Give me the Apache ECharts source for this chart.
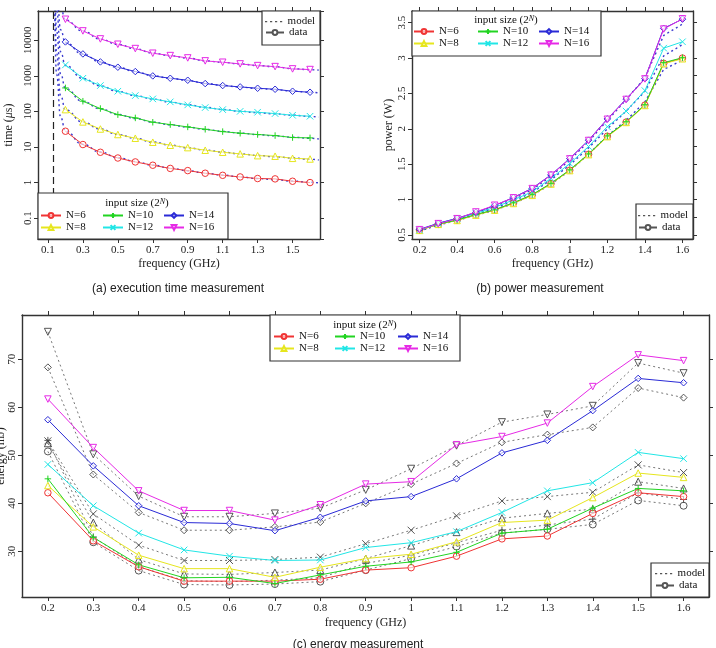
<!DOCTYPE html>
<html>
<head>
<meta charset="utf-8">
<script src="https://cdn.jsdelivr.net/npm/echarts@6/dist/echarts.min.js"></script>
<style>
  html, body { margin: 0; padding: 0; background: #fff; }
  #chart { width: 716px; height: 648px; }
</style>
</head>
<body>
<div id="chart"></div>
<script>
// frequencies (GHz) of the measurements
const freqs = [0.2, 0.3, 0.4, 0.5, 0.6, 0.7, 0.8, 0.9, 1.0, 1.1, 1.2, 1.3, 1.4, 1.5, 1.6];
const sizes = ['N=6', 'N=8', 'N=10', 'N=12', 'N=14', 'N=16'];

// (a) execution time, us
const timeN6 = [27.7, 11.7, 7.1, 4.9, 3.8, 3.07, 2.5, 2.17, 1.83, 1.6, 1.44, 1.3, 1.27, 1.09, 1.0];
const timeN8 = [112, 50.5, 32, 22.4, 17.6, 13.6, 11.2, 9.6, 8.1, 7.1, 6.4, 5.7, 5.5, 4.8, 4.6];
const timeN10 = [456, 193, 120, 81, 65.5, 49.5, 42.6, 36.6, 31.4, 27, 24.3, 22.4, 20.9, 18.4, 18];
const timeN12 = [2020, 852, 531, 368, 278, 224, 185, 152, 128, 112, 100, 94.6, 86.7, 77.7, 73];
const timeN14 = [8940, 4110, 2450, 1740, 1315, 991, 852, 749, 604, 531, 487, 446, 418, 368, 345];
const timeN16 = [38700, 18200, 10850, 7690, 5810, 4300, 3690, 3170, 2620, 2400, 2155, 1930, 1810, 1560, 1495];

// model curves of (a), read at these frequencies
const timeModelFreqs = [0.139, 0.149, 0.173, 0.2, 0.3, 0.4, 0.5, 0.6, 0.7, 0.8, 0.9, 1.0, 1.1, 1.2, 1.3, 1.4, 1.5, 1.6, 1.65];
const timeModelN6 = [53000, 1100, 67, 28, 11.8, 7.2, 5.0, 3.9, 3.1, 2.55, 2.15, 1.85, 1.62, 1.44, 1.3, 1.2, 1.1, 1.02, 0.98];
const timeModelN8 = [200000, 4400, 270, 110, 50, 32, 22.5, 17.5, 13.8, 11.3, 9.5, 8.2, 7.2, 6.4, 5.8, 5.3, 4.9, 4.5, 4.3];
const timeModelN10 = [800000, 18000, 1100, 440, 190, 118, 82, 63, 50, 42, 36, 31, 27.5, 24.5, 22.3, 20.5, 18.8, 17.5, 16.8];
const timeModelN12 = [3200000, 72000, 4700, 1950, 840, 520, 365, 278, 222, 183, 154, 130, 113, 101, 92, 85, 78, 72, 69];
const timeModelN14 = [13000000, 290000, 19500, 8500, 4050, 2450, 1720, 1310, 1000, 850, 740, 610, 535, 480, 440, 410, 370, 345, 330];
const timeModelN16 = [50000000, 1200000, 80000, 37000, 18000, 10700, 7600, 5750, 4350, 3650, 3150, 2620, 2380, 2150, 1940, 1800, 1580, 1480, 1440];
const asymptoteGHz = 0.13;

// (b) power, W
const powN6 = [0.57, 0.65, 0.71, 0.785, 0.855, 0.95, 1.065, 1.225, 1.415, 1.64, 1.895, 2.095, 2.335, 2.925, 3.0];
const powN8 = [0.565, 0.65, 0.705, 0.78, 0.85, 0.945, 1.06, 1.22, 1.41, 1.635, 1.89, 2.09, 2.33, 2.92, 2.99];
const powN10 = [0.57, 0.655, 0.71, 0.79, 0.855, 0.955, 1.07, 1.23, 1.42, 1.645, 1.9, 2.1, 2.34, 2.935, 3.005];
const powN12 = [0.57, 0.665, 0.735, 0.805, 0.89, 0.995, 1.11, 1.30, 1.51, 1.75, 2.03, 2.25, 2.54, 3.14, 3.23];
const powN14 = [0.58, 0.665, 0.735, 0.82, 0.915, 1.03, 1.16, 1.35, 1.58, 1.84, 2.14, 2.42, 2.71, 3.42, 3.55];
const powN16 = [0.575, 0.66, 0.73, 0.825, 0.92, 1.025, 1.155, 1.345, 1.575, 1.835, 2.135, 2.415, 2.705, 3.41, 3.555];
const powModelLow = [0.555, 0.64, 0.705, 0.78, 0.85, 0.945, 1.06, 1.22, 1.41, 1.64, 1.9, 2.12, 2.38, 2.84, 2.97];
const powModelMid = [0.56, 0.65, 0.72, 0.795, 0.875, 0.98, 1.1, 1.28, 1.49, 1.73, 2.0, 2.25, 2.53, 3.03, 3.19];
const powModelHigh = [0.565, 0.655, 0.73, 0.81, 0.9, 1.01, 1.14, 1.33, 1.56, 1.82, 2.12, 2.41, 2.72, 3.32, 3.48];

// (c) energy, mJ
const enN6 = [42.2, 32.2, 26.8, 23.8, 23.8, 23.8, 24.2, 26.1, 26.6, 29.0, 32.6, 33.2, 37.9, 42.2, 41.4];
const enN8 = [43.7, 35.1, 29.2, 26.4, 26.4, 24.6, 26.7, 28.5, 29.4, 32.0, 36.0, 36.5, 41.2, 46.3, 45.4];
const enN10 = [45.1, 32.9, 27.2, 24.5, 24.6, 23.3, 25.1, 26.9, 27.8, 29.8, 33.8, 34.6, 39.0, 43.1, 42.6];
const enN12 = [48.1, 39.5, 33.8, 30.3, 29.0, 28.1, 28.2, 30.8, 31.8, 34.1, 38.1, 42.6, 44.3, 50.6, 49.3];
const enN14 = [57.4, 47.8, 39.5, 36.0, 35.8, 34.3, 37.1, 40.5, 41.4, 45.1, 50.5, 53.1, 59.3, 66.0, 65.1];
const enN16 = [61.7, 51.6, 42.6, 38.5, 38.5, 36.5, 39.7, 44.0, 44.5, 52.2, 53.9, 56.7, 64.3, 70.9, 69.7];
const enModelN6 = [50.8, 31.9, 26.0, 23.1, 23.0, 23.2, 23.7, 26.1, 28.5, 31.0, 33.8, 34.6, 35.6, 40.6, 39.5];
const enModelN8 = [52.5, 36.0, 28.3, 25.3, 25.2, 25.6, 26.1, 28.5, 31.2, 34.0, 36.9, 37.9, 38.8, 44.5, 43.1];
const enModelN10 = [53.1, 33.0, 26.8, 23.9, 23.7, 24.0, 24.5, 27.5, 29.2, 31.8, 34.4, 35.5, 36.7, 42.2, 40.8];
const enModelN12 = [53.0, 37.8, 31.3, 28.1, 28.1, 28.3, 28.8, 31.6, 34.4, 37.4, 40.5, 41.4, 42.3, 48.0, 46.4];
const enModelN14 = [68.3, 46.0, 38.1, 34.4, 34.4, 35.1, 36.1, 40.0, 44.0, 48.3, 52.7, 54.3, 55.8, 64.0, 62.0];
const enModelN16 = [75.7, 50.2, 41.5, 37.2, 37.2, 37.9, 39.0, 42.8, 47.2, 52.0, 56.9, 58.5, 60.3, 69.2, 67.1];

// tick labels
const ticksA_x = [0.1, 0.3, 0.5, 0.7, 0.9, 1.1, 1.3, 1.5];
const ticksA_xTop = [0.1, 0.2, 0.3, 0.4, 0.5, 0.6, 0.7, 0.8, 0.9, 1.0, 1.1, 1.2, 1.3, 1.4, 1.5, 1.6];
const ticksB_x = [0.2, 0.4, 0.6, 0.8, 1, 1.2, 1.4, 1.6];
const ticksB_y = [0.5, 1, 1.5, 2, 2.5, 3, 3.5];
const ticksB_yRight = [0.5, 0.75, 1, 1.25, 1.5, 1.75, 2, 2.25, 2.5, 2.75, 3, 3.25, 3.5];
const ticksC_x = [0.2, 0.3, 0.4, 0.5, 0.6, 0.7, 0.8, 0.9, 1, 1.1, 1.2, 1.3, 1.4, 1.5, 1.6];
const ticksC_y = [30, 40, 50, 60, 70];

const SERIF = '"Liberation Serif", "DejaVu Serif", serif';
const PLUS = 'path://M0,5L10,5M5,0L5,10';
const CROSS = 'path://M0,0L10,10M10,0L0,10';
// dotted legend icon; the thin first rect only fixes the icon's box
const DOTTED = 'path://M0,0h0.01v10h-0.01zM0,4.4h2.2v1.4h-2.2zM5,4.4h2.2v1.4h-2.2zM10,4.4h2.2v1.4h-2.2zM15,4.4h2.2v1.4h-2.2z';
const styles = [
  { color: '#f03434', symbol: 'circle' },
  { color: '#e6e61e', symbol: 'triangle' },
  { color: '#22d422', symbol: PLUS },
  { color: '#22e6e6', symbol: CROSS },
  { color: '#2a2ad6', symbol: 'diamond' },
  { color: '#e62ae6', symbol: 'triangle', rotate: 180 }
];
const MODEL_BLUE = '#3b3bd0';

const pts = (xs, ys) => xs.map((x, i) => [x, ys[i]]);

function dataSeries(i, ys, ax) {
  const s = styles[i];
  return {
    name: sizes[i], type: 'line', xAxisIndex: ax, yAxisIndex: ax,
    data: pts(freqs, ys), symbol: s.symbol, symbolSize: 6.5, symbolRotate: s.rotate || 0,
    lineStyle: { color: s.color, width: 1 },
    itemStyle: { color: 'rgba(255,255,255,0.6)', borderColor: s.color, borderWidth: 1 },
    z: 4, animation: false
  };
}

function modelLine(name, xs, ys, ax, extra) {
  return Object.assign({
    name: name, type: 'line', xAxisIndex: ax, yAxisIndex: ax,
    data: pts(xs, ys), symbol: 'none', smooth: true, smoothMonotone: 'x',
    lineStyle: { color: MODEL_BLUE, width: 1.4, type: [2, 3] },
    z: 3, animation: false
  }, extra || {});
}

function energyModel(i, ys) {
  const s = styles[i];
  return {
    name: 'model ' + sizes[i], type: 'line', xAxisIndex: 4, yAxisIndex: 4,
    data: pts(freqs, ys), symbol: s.symbol, symbolSize: 7, symbolRotate: s.rotate || 0,
    lineStyle: { color: '#777', width: 1, type: [2, 3] },
    itemStyle: { color: 'rgba(255,255,255,0)', borderColor: '#444', borderWidth: 0.9 },
    z: 3, animation: false
  };
}

function xAx(grid, min, max, ticks, pos, name, gap) {
  return {
    type: 'value', gridIndex: grid, position: pos, min: min, max: max,
    name: name || '', nameLocation: 'middle', nameGap: gap || 20, nameMoveOverlap: false,
    nameTextStyle: { fontFamily: SERIF, fontSize: 12, color: '#222' },
    axisLine: { show: true, onZero: false, lineStyle: { color: '#333', width: 1.4 } },
    axisTick: { show: true, inside: false, length: 4, customValues: ticks, lineStyle: { color: '#333' } },
    axisLabel: { show: pos === 'bottom', customValues: ticks, margin: 6, fontFamily: SERIF, fontSize: 11, color: '#222' },
    splitLine: { show: false }
  };
}

function yAx(grid, min, max, ticks, pos, name, gap, rich) {
  const ax = {
    type: 'value', gridIndex: grid, position: pos, min: min, max: max,
    name: name || '', nameLocation: 'middle', nameGap: gap || 20, nameRotate: 90, nameMoveOverlap: false,
    nameTextStyle: { fontFamily: SERIF, fontSize: 12, color: '#222', rich: rich },
    axisLine: { show: true, onZero: false, lineStyle: { color: '#333', width: 1.4 } },
    axisTick: { show: true, inside: false, length: 4, lineStyle: { color: '#333' } },
    axisLabel: { show: pos === 'left', rotate: 90, margin: 4, fontFamily: SERIF, fontSize: 11, color: '#222' },
    splitLine: { show: false }
  };
  if (ticks) {
    ax.axisTick.customValues = ticks;
    ax.axisLabel.customValues = ticks;
  }
  return ax;
}

function logAx(pos) {
  const ax = yAx(0, 0.026, 66000, null, pos, pos === 'left' ? 'time ({i|μ}s)' : '', 23,
    { i: { fontFamily: SERIF, fontSize: 12, fontStyle: 'italic', color: '#222' } });
  ax.type = 'log';
  ax.logBase = 10;
  ax.splitNumber = 6;
  ax.axisLabel.showMinLabel = false;
  ax.axisLabel.showMaxLabel = false;
  ax.axisLabel.formatter = v => String(+(+v).toPrecision(3));
  return ax;
}

function legItem(name, x, y, w, icon) {
  const l = {
    show: true, data: [name], left: x, top: y - 7, padding: 0,
    itemWidth: w || 20, itemHeight: 6, selectedMode: false, z: 30,
    textStyle: { fontFamily: SERIF, fontSize: 11, color: '#111' }
  };
  if (icon) { l.icon = icon; l.itemHeight = 10; }
  return l;
}

function sizeLegend(cols, rows) {
  const order = [[0, 1], [2, 3], [4, 5]];
  const out = [];
  order.forEach((pair, c) => pair.forEach((idx, r) => out.push(legItem(sizes[idx], cols[c], rows[r]))));
  return out;
}

function modelDataLegend(x, y0, y1) {
  return [legItem('model', x, y0, 18, DOTTED), legItem('data', x, y1, 18)];
}

const legends = [].concat(
  sizeLegend([40, 102, 163], [217, 229]),
  sizeLegend([413, 477, 538], [33, 45]),
  sizeLegend([273, 334, 397], [338, 350]),
  modelDataLegend(265, 23, 34),
  modelDataLegend(638, 217, 229),
  modelDataLegend(655, 575, 587)
);

function box(x, y, w, h) {
  return { type: 'rect', shape: { x: x, y: y, width: w, height: h }, z: 20,
    style: { fill: '#fff', stroke: '#333', lineWidth: 1.2 } };
}
function sizeTitle(cx, cy) {
  return { type: 'text', x: cx, y: cy, z: 30,
    style: { text: 'input size (2{s|N})', align: 'center', verticalAlign: 'middle',
      fontFamily: SERIF, fontSize: 11, fill: '#111',
      rich: { s: { fontFamily: SERIF, fontSize: 8, fontStyle: 'italic', verticalAlign: 'top', fill: '#111' } } } };
}
function caption(text, cx, cy) {
  return { type: 'text', x: cx, y: cy, z: 30,
    style: { text: text, align: 'center', verticalAlign: 'middle',
      fontFamily: '"Liberation Sans", Arial, sans-serif', fontSize: 12, fill: '#222' } };
}

const series = [];
// (a)
const timeData = [timeN6, timeN8, timeN10, timeN12, timeN14, timeN16];
const timeModel = [timeModelN6, timeModelN8, timeModelN10, timeModelN12, timeModelN14, timeModelN16];
timeModel.forEach((ys, i) => series.push(modelLine('model a ' + sizes[i], timeModelFreqs, ys, 0)));
series[0].markLine = {
  symbol: 'none', silent: true, animation: false, label: { show: false },
  lineStyle: { color: '#222', width: 1.2, type: [7, 4] },
  data: [{ xAxis: asymptoteGHz }]
};
timeData.forEach((ys, i) => series.push(dataSeries(i, ys, 0)));
// (b)
series.push(modelLine('model b low', freqs, powModelLow, 2, { smooth: false }));
series.push(modelLine('model b mid', freqs, powModelMid, 2, { smooth: false }));
series.push(modelLine('model b high', freqs, powModelHigh, 2, { smooth: false }));
[powN6, powN8, powN10, powN12, powN14, powN16].forEach((ys, i) => series.push(dataSeries(i, ys, 2)));
// (c)
[enModelN6, enModelN8, enModelN10, enModelN12, enModelN14, enModelN16].forEach((ys, i) => series.push(energyModel(i, ys)));
[enN6, enN8, enN10, enN12, enN14, enN16].forEach((ys, i) => series.push(dataSeries(i, ys, 4)));
// legend-only entries
series.push({ name: 'model', type: 'line', xAxisIndex: 0, yAxisIndex: 0, data: [], symbol: 'none',
  lineStyle: { color: '#555', width: 1.2, type: [2, 3] }, itemStyle: { color: '#555' } });
series.push({ name: 'data', type: 'line', xAxisIndex: 0, yAxisIndex: 0, data: [], symbol: 'circle', symbolSize: 6,
  lineStyle: { color: '#555', width: 1 }, itemStyle: { color: '#fff', borderColor: '#555', borderWidth: 1 } });

const chart = echarts.init(document.getElementById('chart'), null, { renderer: 'canvas' });
chart.setOption({
  backgroundColor: '#fff',
  animation: false,
  grid: [
    { left: 38, top: 11, width: 282, height: 228, outerBoundsMode: 'none', containLabel: false },
    { left: 412, top: 11, width: 281, height: 228, outerBoundsMode: 'none', containLabel: false },
    { left: 22, top: 315, width: 687, height: 282, outerBoundsMode: 'none', containLabel: false }
  ],
  xAxis: [
    xAx(0, 0.043, 1.657, ticksA_x, 'bottom', 'frequency (GHz)', 19),
    xAx(0, 0.043, 1.657, ticksA_xTop, 'top'),
    xAx(1, 0.16, 1.656, ticksB_x, 'bottom', 'frequency (GHz)', 19),
    xAx(1, 0.16, 1.656, ticksC_x, 'top'),
    xAx(2, 0.143, 1.656, ticksC_x, 'bottom', 'frequency (GHz)', 20),
    xAx(2, 0.143, 1.656, ticksC_x, 'top')
  ],
  yAxis: [
    logAx('left'),
    logAx('right'),
    yAx(1, 0.443, 3.665, ticksB_y, 'left', 'power (W)', 17),
    yAx(1, 0.443, 3.665, ticksB_yRight, 'right'),
    yAx(2, 20.5, 79.2, ticksC_y, 'left', 'energy (mJ)', 15),
    yAx(2, 20.5, 79.2, ticksC_y, 'right')
  ],
  legend: legends,
  graphic: [
    box(38, 193, 190, 46), sizeTitle(137, 203),
    box(262, 11, 58, 34),
    box(412, 11, 189, 45), sizeTitle(506, 20),
    box(636, 204, 57, 35),
    box(270, 315, 190, 46), sizeTitle(365, 325),
    box(651, 563, 58, 34),
    caption('(a) execution time measurement', 178, 289),
    caption('(b) power measurement', 540, 289),
    caption('(c) energy measurement', 358, 645)
  ],
  series: series
});
</script>
</body>
</html>
